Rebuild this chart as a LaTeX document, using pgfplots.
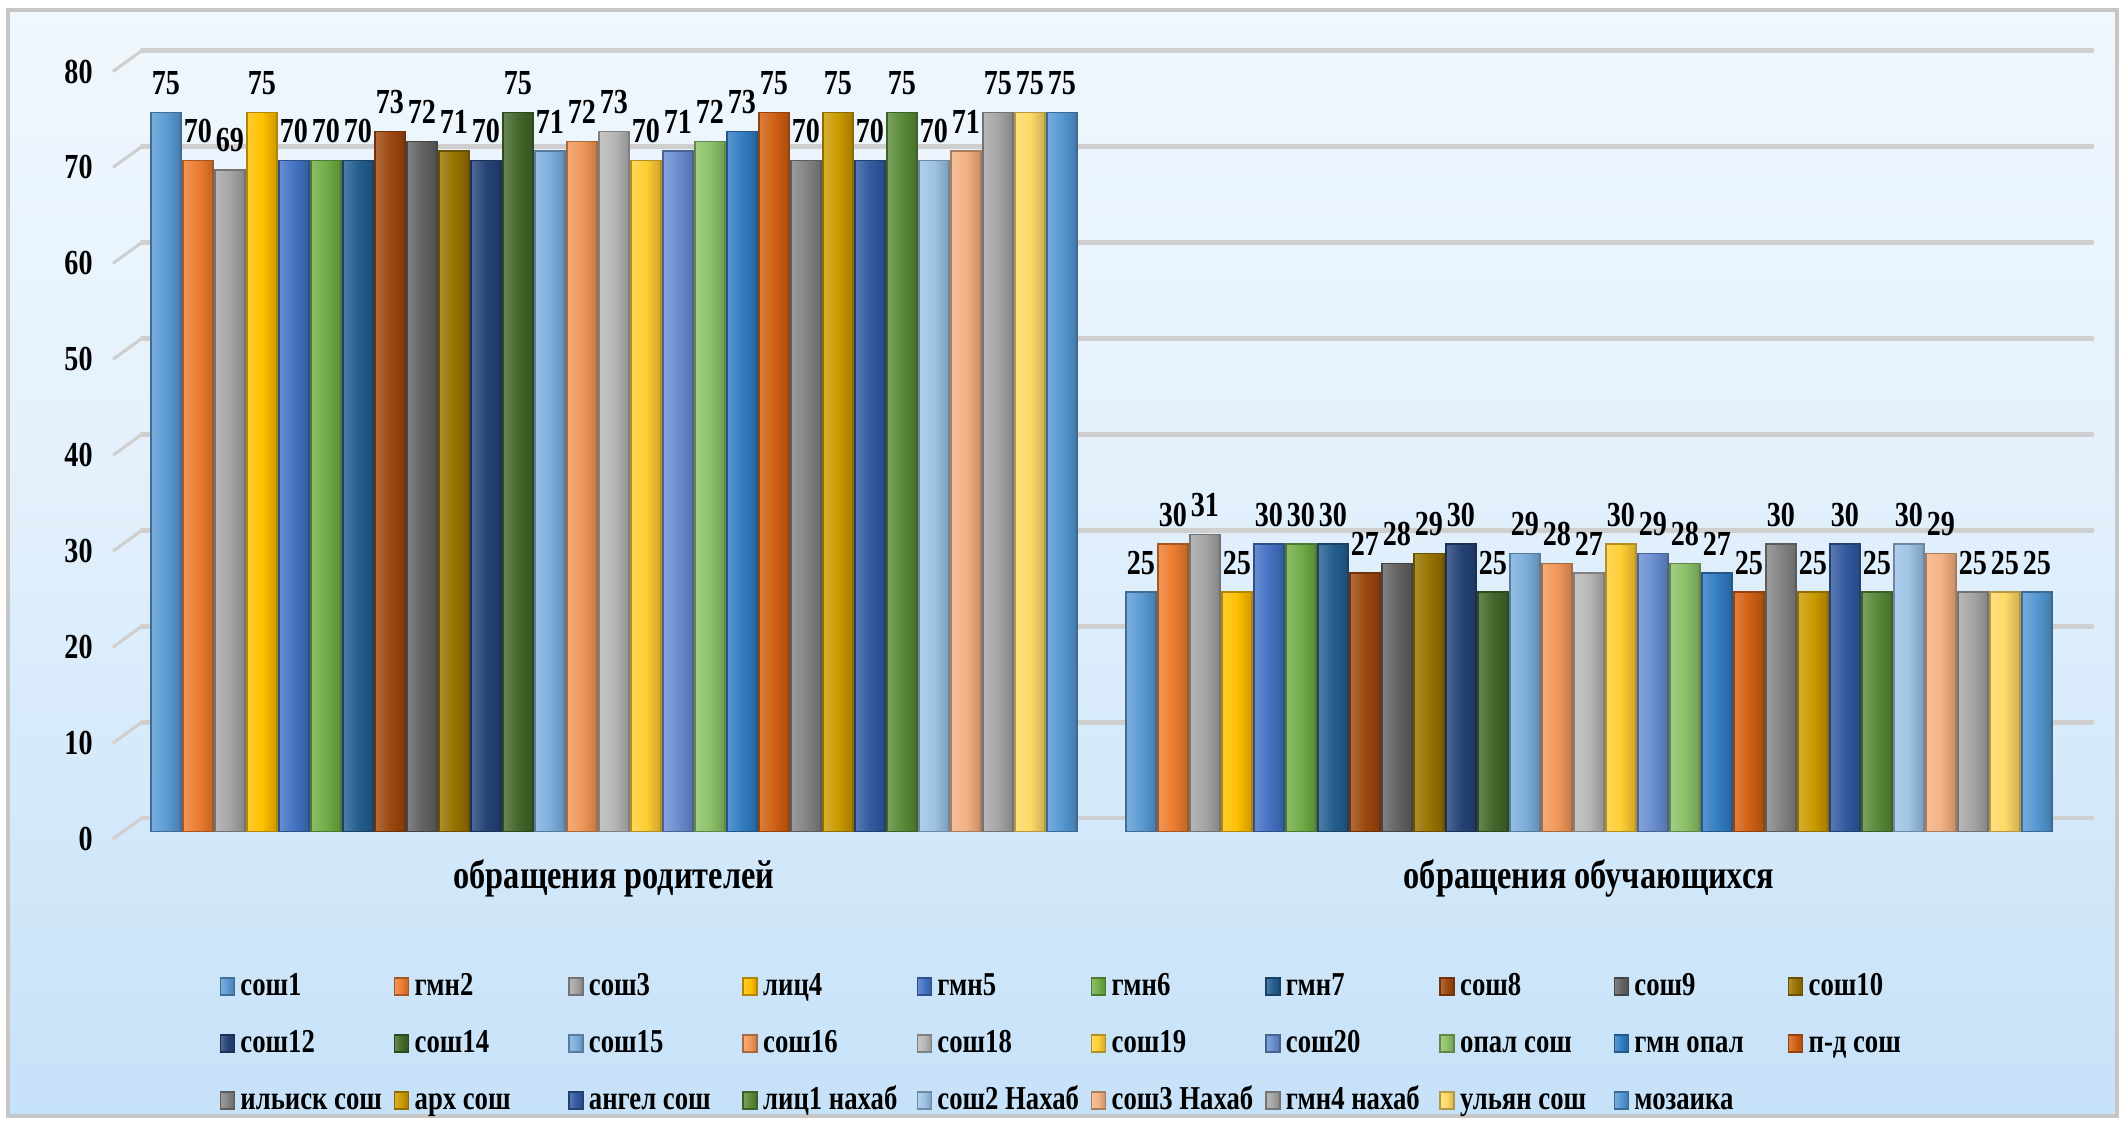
\documentclass[border=0pt]{standalone}
\usepackage{fontspec}
\setmainfont{Liberation Serif}[FakeStretch=0.8]
\usepackage{pgfplots}
\pgfplotsset{compat=1.18}

\definecolor{c1}{HTML}{5B9BD5}
\definecolor{c2}{HTML}{ED7D31}
\definecolor{c3}{HTML}{A5A5A5}
\definecolor{c4}{HTML}{FFC000}
\definecolor{c5}{HTML}{4472C4}
\definecolor{c6}{HTML}{70AD47}
\definecolor{c7}{HTML}{255E91}
\definecolor{c8}{HTML}{9E480E}
\definecolor{c9}{HTML}{636363}
\definecolor{c10}{HTML}{997300}
\definecolor{c11}{HTML}{264478}
\definecolor{c12}{HTML}{43682B}
\definecolor{c13}{HTML}{7CAFDD}
\definecolor{c14}{HTML}{F1975A}
\definecolor{c15}{HTML}{B7B7B7}
\definecolor{c16}{HTML}{FFCD33}
\definecolor{c17}{HTML}{698ED0}
\definecolor{c18}{HTML}{8CC168}
\definecolor{c19}{HTML}{327DC2}
\definecolor{c20}{HTML}{D26012}
\definecolor{c21}{HTML}{848484}
\definecolor{c22}{HTML}{CC9A00}
\definecolor{c23}{HTML}{335AA1}
\definecolor{c24}{HTML}{5A8A39}
\definecolor{c25}{HTML}{9DC3E6}
\definecolor{c26}{HTML}{F4B183}
\definecolor{c27}{HTML}{A5A5A5}
\definecolor{c28}{HTML}{FFD966}
\definecolor{c29}{HTML}{5597D3}

\definecolor{bgA}{HTML}{C3E0F8}
\definecolor{bgB}{HTML}{DDEEFD}
\definecolor{gridc}{HTML}{CFCFCF}
\pgfdeclareverticalshading{bgshade}{100bp}{color(0bp)=(bgB); color(22bp)=(bgA); color(55bp)=(bgA!45!white); color(100bp)=(white)}

\pgfplotsset{
  cyl/.style={draw=#1!70!black, line width=0.4pt,
    left color=#1!80!white, right color=#1!80!black, middle color=#1},
}

% one series: index, colour, parents, students, name
% each bar is its own plot so that every bar gets its own shading
\newcommand{\ser}[5]{%
  \addplot[cyl=#2, bar shift={(#1-15)*0.32cm}] coordinates {(0,#3)};
  \addlegendentry{\makebox[1.483cm][l]{#5}}
  \addplot[cyl=#2, bar shift={(#1-15)*0.32cm}, forget plot] coordinates {(1,#4)};}

\begin{document}
\begin{tikzpicture}
\path[use as bounding box] (0,0) rectangle (21.25,11.24);
\shade[shading=bgshade] (0.08,0.08) rectangle (21.17,11.14);
\draw[gray!45, line width=1pt] (0.08,0.08) rectangle (21.17,11.14);
\begin{axis}[
    at={(1.42cm,2.92cm)}, anchor=south west,
    scale only axis,
    width=19.5cm, height=7.675cm,
    xmin=-0.484, xmax=1.516,
    ymin=0, ymax=80,
    ytick={0,10,...,80},
    xtick={0,1},
    xticklabels={обращения родителей, обращения обучающихся},
    /pgf/number format/assume math mode=true,
    axis line style={draw=none},
    tick style={draw=none},
    ymajorgrids,
    major grid style={draw=gridc, line width=1.4pt, line cap=round, yshift=0.14cm},
    ticklabel style={font=\bfseries\fontsize{10}{11}\selectfont},
    yticklabel style={xshift=-0.37cm, yshift=-0.07cm,
        append after command={(\tikzlastnode.east) ++(0.08cm,0)
            edge[draw=gridc, line width=0.9pt] ++(0.29cm,0.21cm)}},
    xticklabel style={font=\bfseries\fontsize{11.5}{13}\selectfont, yshift=0cm},
    ybar, bar width=0.30cm,
    nodes near coords,
    nodes near coords style={font=\bfseries\fontsize{10}{11}\selectfont, text=black,
        inner sep=2pt, yshift=0.1cm},
    legend columns=10,
    legend style={at={(0.0395,-0.1726)}, anchor=north west, draw=none, fill=none,
        font=\bfseries\fontsize{9.5}{10}\selectfont,
        column sep=0pt, row sep=0.145cm, inner sep=0pt,
        nodes={inner sep=1.5pt, text height=0.25cm, text depth=0.07cm}},
    legend image code/.code={\draw[#1] (0cm,-0.085cm) rectangle (0.14cm,0.085cm);},
]
\ser{1}{c1}{75}{25}{сош1}
\ser{2}{c2}{70}{30}{гмн2}
\ser{3}{c3}{69}{31}{сош3}
\ser{4}{c4}{75}{25}{лиц4}
\ser{5}{c5}{70}{30}{гмн5}
\ser{6}{c6}{70}{30}{гмн6}
\ser{7}{c7}{70}{30}{гмн7}
\ser{8}{c8}{73}{27}{сош8}
\ser{9}{c9}{72}{28}{сош9}
\ser{10}{c10}{71}{29}{сош10}
\ser{11}{c11}{70}{30}{сош12}
\ser{12}{c12}{75}{25}{сош14}
\ser{13}{c13}{71}{29}{сош15}
\ser{14}{c14}{72}{28}{сош16}
\ser{15}{c15}{73}{27}{сош18}
\ser{16}{c16}{70}{30}{сош19}
\ser{17}{c17}{71}{29}{сош20}
\ser{18}{c18}{72}{28}{опал сош}
\ser{19}{c19}{73}{27}{гмн опал}
\ser{20}{c20}{75}{25}{п-д сош}
\ser{21}{c21}{70}{30}{ильиск сош}
\ser{22}{c22}{75}{25}{арх сош}
\ser{23}{c23}{70}{30}{ангел сош}
\ser{24}{c24}{75}{25}{лиц1 нахаб}
\ser{25}{c25}{70}{30}{сош2 Нахаб}
\ser{26}{c26}{71}{29}{сош3 Нахаб}
\ser{27}{c27}{75}{25}{гмн4 нахаб}
\ser{28}{c28}{75}{25}{ульян сош}
\ser{29}{c29}{75}{25}{мозаика}
\end{axis}
\end{tikzpicture}
\end{document}
